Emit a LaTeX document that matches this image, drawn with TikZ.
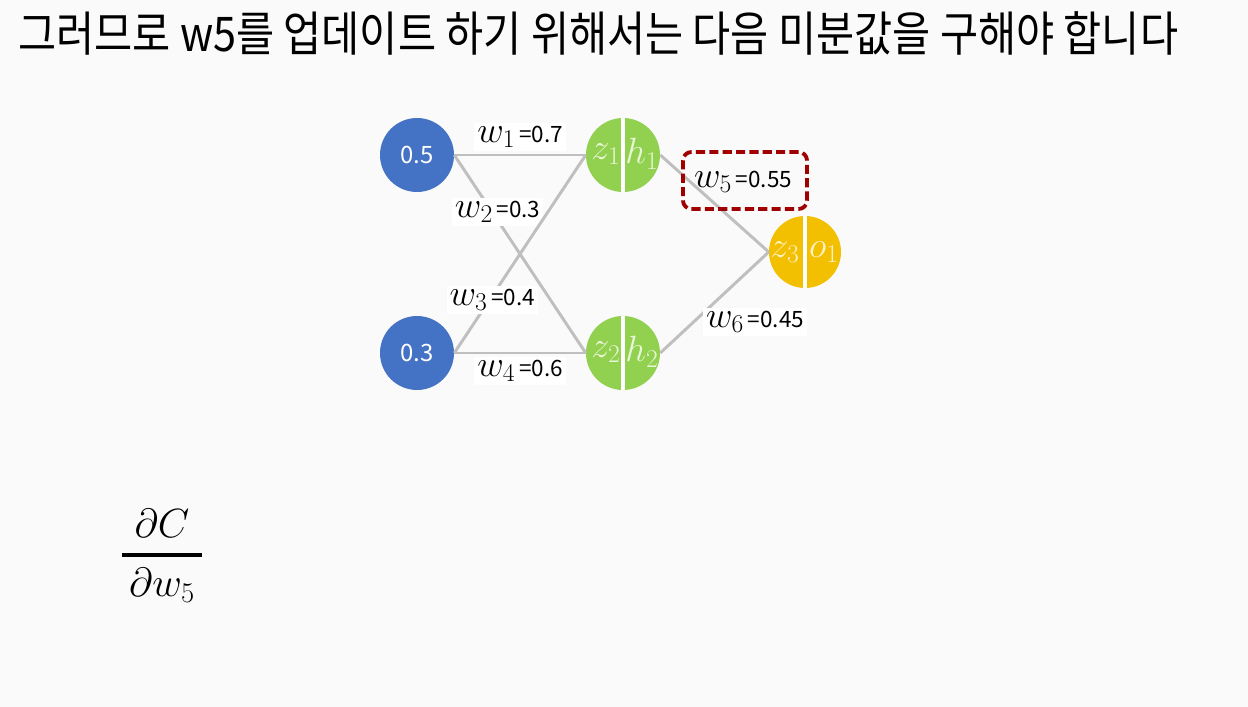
\RequirePackage{fix-cm}
\documentclass[tikz,border=0pt]{standalone}
\usepackage{fontspec}
\usepackage{amsmath}
\setmainfont{Noto Sans CJK KR}
\definecolor{bgcol}{RGB}{250,250,250}
\definecolor{inblue}{RGB}{68,114,196}
\definecolor{hidgreen}{RGB}{146,208,80}
\definecolor{outgold}{RGB}{242,192,0}
\definecolor{linkgray}{RGB}{191,191,191}
\definecolor{boxred}{RGB}{160,0,0}
\definecolor{hidtext}{RGB}{232,247,214}
\definecolor{outtext}{RGB}{255,242,196}
\newcommand{\wlab}[2]{{\fontsize{26}{29}\selectfont$w_{#1}$}\,=#2}

\begin{document}
\begin{tikzpicture}[
	inpnode/.style={circle, fill=inblue, minimum size=1.85cm, inner sep=0pt, text=white, font=\fontsize{17}{20}\selectfont},
	hidnode/.style={circle, fill=hidgreen, minimum size=1.85cm, inner sep=0pt},
	outnode/.style={circle, fill=outgold, minimum size=1.8cm, inner sep=0pt},
	halftext/.style={inner sep=0pt, font=\fontsize{26}{29}\selectfont},
	link/.style={draw=linkgray, line width=2.1pt},
	split/.style={draw=white, line width=2.8pt},
	wlabel/.style={fill=white, inner sep=2pt, font=\fontsize{16}{19}\selectfont}
]
				\fill[bgcol] (0,0) rectangle (31.2,-17.675);
				\useasboundingbox (0,0) rectangle (31.2,-17.675);
				\node[anchor=west, inner sep=0pt, font=\fontsize{34}{40}\selectfont] (T)at(0.45, -0.83) {\scalebox{0.867}[1]{그러므로 w5를 업데이트 하기 위해서는 다음 미분값을 구해야 합니다}};
				\node[inpnode] (I1)at(10.425, -3.875) {0.5};
				\node[inpnode] (I2)at(10.425, -8.825) {0.3};
				\node[hidnode] (H1)at(15.575, -3.875) {};
				\node[hidnode] (H2)at(15.575, -8.825) {};
				\node[outnode] (O1)at(20.125, -6.3) {};
				\draw[split] (H1.north) -- (H1.south);
				\draw[split] (H2.north) -- (H2.south);
				\draw[split] (O1.north) -- (O1.south);
				\node[halftext, text=hidtext] (Z1)at(15.15, -3.85) {$z_1$};
				\node[halftext, text=hidtext] (HH1)at(16.05, -3.85) {$h_1$};
				\node[halftext, text=hidtext] (Z2)at(15.15, -8.8) {$z_2$};
				\node[halftext, text=hidtext] (HH2)at(16.05, -8.8) {$h_2$};
				\node[halftext, text=outtext] (Z3)at(19.625, -6.3) {$z_3$};
				\node[halftext, text=outtext] (OO1)at(20.6, -6.3) {$o_1$};
				\draw[link] (I1.east) -- (H1.west) node[wlabel, midway, above=2pt] {\wlab{1}{0.7}};
				\draw[link] (I1.east) -- (H2.west) node[wlabel, pos=0.33, yshift=6pt] {\wlab{2}{0.3}};
				\draw[link] (I2.east) -- (H1.west) node[wlabel, pos=0.29, yshift=-3pt] {\wlab{3}{0.4}};
				\draw[link] (I2.east) -- (H2.west) node[wlabel, midway, below=2pt] {\wlab{4}{0.6}};
				\draw[link] (H1.east) -- (O1.west);
				\draw[link] (H2.east) -- (O1.west);
				\node[draw=boxred, dash pattern=on 6.5pt off 3pt, line width=2.7pt, rounded corners=6pt, minimum width=3.1cm, minimum height=1.425cm] (B5)at(18.625, -4.5125) {};
				\node[inner sep=0pt, font=\fontsize{16}{19}\selectfont] (L5)at(18.575, -4.55) {\wlab{5}{0.55}};
				\node[wlabel] (L6)at(18.875, -8.05) {\wlab{6}{0.45}};
				\node[inner sep=0pt, font=\fontsize{29}{33}\selectfont] (D)at(4.05, -13.9) {$\genfrac{}{}{2.7pt}{0}{\partial C}{\,\partial w_5\,}$};
			\end{tikzpicture}
\end{document}
